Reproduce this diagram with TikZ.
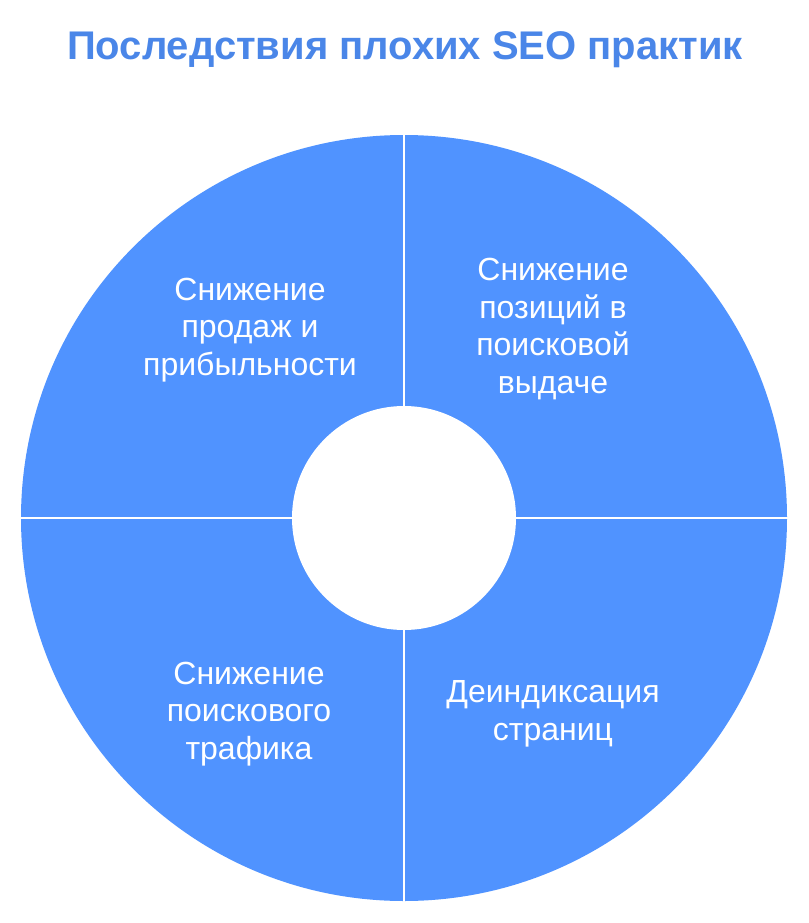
\documentclass[tikz,border=0pt]{standalone}
\usepackage{fontspec}
\setmainfont{Liberation Sans}
\definecolor{segblue}{HTML}{5093FF}
\definecolor{titleblue}{HTML}{4A86E8}
\begin{document}
\begin{tikzpicture}[x=1pt,y=-1pt,
  seglabel/.style={text=white,align=center,font=\fontsize{32}{37.5}\selectfont},
  divider/.style={draw=white,line width=2.2pt}]
\useasboundingbox (0,0) rectangle (808,923);
\coordinate (c) at (404,518);
\fill[segblue] (c) circle[radius=383];
\fill[white] (c) circle[radius=112];
\coordinate (top) at (404,130);
\coordinate (bot) at (404,906);
\coordinate (lft) at (16,518);
\coordinate (rgt) at (792,518);
\draw[divider] (top) -- (c |- 0,406);
\draw[divider] (c |- 0,630) -- (bot);
\draw[divider] (lft) -- (292,518);
\draw[divider] (516,518) -- (rgt);
\node[font=\bfseries\fontsize{40}{46}\selectfont,text=titleblue] (title) at (405,50) {Последствия плохих SEO практик};
\node[seglabel] (tl) at (250,330) {Снижение\\продаж и\\прибыльности};
\node[seglabel] (tr) at (553,329) {Снижение\\позиций в\\поисковой\\выдаче};
\node[seglabel] (bl) at (249,714) {Снижение\\поискового\\трафика};
\node[seglabel] (br) at (553,714) {Деиндиксация\\страниц};
\end{tikzpicture}
\end{document}
